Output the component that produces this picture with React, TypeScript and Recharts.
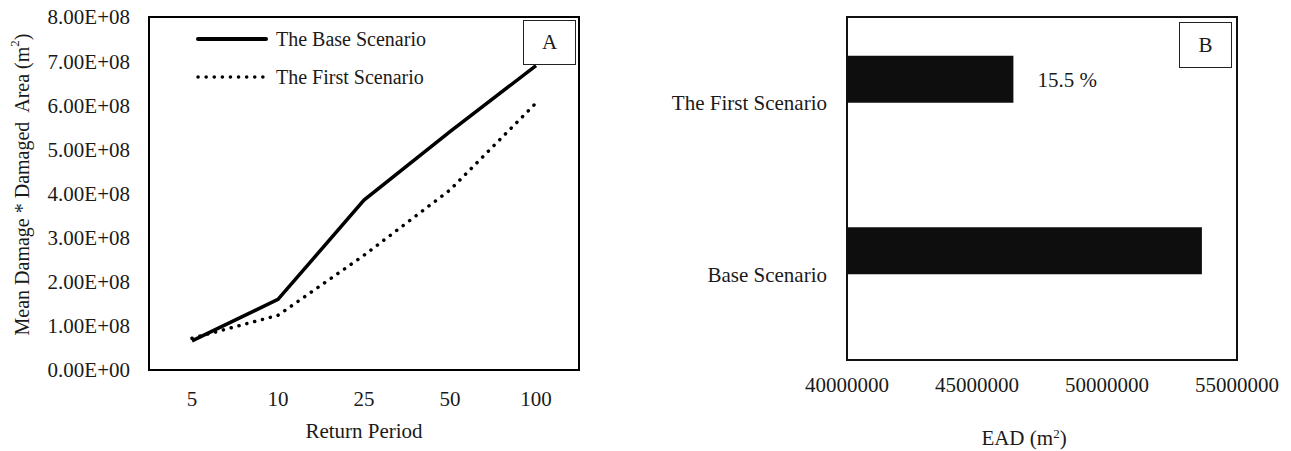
import React from 'react';
import {
  LineChart,
  Line,
  XAxis,
  YAxis,
  Legend,
  Label,
  ReferenceArea,
  BarChart,
  Bar,
  LabelList,
} from 'recharts';

// ---------- Data: panel A ----------
const returnPeriods = ['5', '10', '25', '50', '100'];
const baseScenario = [0.66e8, 1.6e8, 3.85e8, 5.4e8, 6.9e8];
const firstScenario = [0.72e8, 1.24e8, 2.6e8, 4.08e8, 6.05e8];
const yTicksA = [0, 1e8, 2e8, 3e8, 4e8, 5e8, 6e8, 7e8, 8e8];

// ---------- Data: panel B ----------
const scenarioNames = ['The First Scenario', 'Base Scenario'];
const eadValues = [46400000, 53650000];
const eadNotes = ['15.5 %', ''];
const xTicksB = [40000000, 45000000, 50000000, 55000000];

const lineData = returnPeriods.map((rp, i) => ({
  rp,
  base: baseScenario[i],
  first: firstScenario[i],
}));

const barData = scenarioNames.map((name, i) => ({
  name,
  ead: eadValues[i],
  note: eadNotes[i],
  pad: null as number | null,
}));

const FONT = '"Liberation Serif", "Times New Roman", serif';
const TXT = '#1a1a1a';
const FS = 21;

const fmtSci = (v: number) => {
  if (v === 0) return '0.00E+00';
  const exp = Math.floor(Math.log10(Math.abs(v)));
  const mant = v / Math.pow(10, exp);
  return `${mant.toFixed(2)}E+${String(exp).padStart(2, '0')}`;
};

const seriesStyle: Record<string, { dash?: string }> = {
  base: {},
  first: { dash: '0.1 8' },
};

const renderLegend = (props: any) => {
  const payload = props.payload || [];
  return (
    <div style={{ fontFamily: FONT, fontSize: FS - 1, color: TXT }}>
      {payload.map((entry: any) => {
        const st = seriesStyle[entry.dataKey] || {};
        return (
          <div
            key={entry.dataKey}
            style={{ display: 'flex', alignItems: 'center', height: 38 }}
          >
            <svg width={72} height={10} style={{ marginRight: 8 }}>
              <line
                x1={2}
                y1={5}
                x2={70}
                y2={5}
                stroke="#000"
                strokeWidth={st.dash ? 3.5 : 4}
                strokeDasharray={st.dash}
                strokeLinecap="round"
              />
            </svg>
            <span>{entry.value}</span>
          </div>
        );
      })}
    </div>
  );
};

const YTitleA = (props: any) => {
  const vb = props.viewBox || {};
  const cx = vb.x - 7;
  const cy = vb.y + vb.height / 2 - 9;
  return (
    <text
      x={cx}
      y={cy}
      transform={`rotate(-90 ${cx} ${cy})`}
      textAnchor="middle"
      dominantBaseline="central"
      fontFamily={FONT}
      fontSize={FS - 1}
      fill={TXT}
    >
      {'Mean Damage * Damaged\u00a0 Area (m'}
      <tspan baselineShift="super" fontSize={13}>
        2
      </tspan>
      <tspan>)</tspan>
    </text>
  );
};

const XTitleA = (props: any) => {
  const vb = props.viewBox || {};
  return (
    <text
      x={vb.x + vb.width / 2}
      y={vb.y + 68}
      textAnchor="middle"
      fontFamily={FONT}
      fontSize={FS}
      fill={TXT}
    >
      Return Period
    </text>
  );
};

const XTitleB = (props: any) => {
  const vb = props.viewBox || {};
  return (
    <text
      x={vb.x + vb.width / 2 - 18}
      y={vb.y + 85}
      textAnchor="middle"
      fontFamily={FONT}
      fontSize={FS}
      fill={TXT}
    >
      EAD (m
      <tspan baselineShift="super" fontSize={13}>
        2
      </tspan>
      <tspan>)</tspan>
    </text>
  );
};

const tickStyle = { fontFamily: FONT, fontSize: FS, fill: TXT };

const boxStyle: React.CSSProperties = {
  position: 'absolute',
  boxSizing: 'border-box',
  border: '1.5px solid #222',
  background: '#fff',
  fontFamily: FONT,
  fontSize: FS,
  color: TXT,
  display: 'flex',
  alignItems: 'center',
  justifyContent: 'center',
};

export default function App() {
  return (
    <div
      style={{
        position: 'absolute',
        left: 0,
        top: 0,
        width: 1291,
        height: 451,
        background: '#fff',
      }}
    >
      {/* Panel A */}
      <div style={{ position: 'absolute', left: 0, top: 0 }}>
        <LineChart
          width={600}
          height={451}
          data={lineData}
          margin={{ top: 17, right: 21, bottom: 0, left: 29 }}
        >
          <XAxis
            dataKey="rp"
            type="category"
            scale="band"
            height={81}
            axisLine={false}
            tickLine={false}
            tickSize={0}
            tickMargin={21}
            tick={tickStyle}
            interval={0}
          >
            <Label content={XTitleA} />
          </XAxis>
          <YAxis
            type="number"
            domain={[0, 8e8]}
            ticks={yTicksA}
            width={120}
            axisLine={false}
            tickLine={false}
            tickSize={0}
            tickMargin={19}
            tick={tickStyle}
            tickFormatter={fmtSci}
            interval={0}
          >
            <Label content={YTitleA} />
          </YAxis>
          <ReferenceArea
            y1={0}
            y2={8e8}
            fill="none"
            stroke="#000"
            strokeWidth={2}
            ifOverflow="visible"
          />
          <Line
            dataKey="base"
            name="The Base Scenario"
            type="linear"
            stroke="#000"
            strokeWidth={3.5}
            dot={false}
            activeDot={false}
            isAnimationActive={false}
          />
          <Line
            dataKey="first"
            name="The First Scenario"
            type="linear"
            stroke="#000"
            strokeWidth={3.5}
            strokeDasharray="0.1 8"
            strokeLinecap="round"
            dot={false}
            activeDot={false}
            isAnimationActive={false}
          />
          <Legend
            layout="vertical"
            align="center"
            verticalAlign="middle"
            content={renderLegend}
            wrapperStyle={{ left: 196, top: 20, width: 300, height: 76 }}
          />
        </LineChart>
      </div>

      {/* Panel B */}
      <div style={{ position: 'absolute', left: 600, top: 0 }}>
        <BarChart
          width={691}
          height={451}
          data={barData}
          layout="vertical"
          margin={{ top: 17, right: 54, bottom: 0, left: 47 }}
          barGap={0}
          barCategoryGap="22.6%"
        >
          <XAxis
            type="number"
            domain={[40000000, 55000000]}
            ticks={xTicksB}
            height={91}
            axisLine={false}
            tickLine={false}
            tickSize={0}
            tickMargin={17}
            tick={tickStyle}
            interval={0}
            allowDataOverflow
          >
            <Label content={XTitleB} />
          </XAxis>
          <YAxis
            type="category"
            dataKey="name"
            width={200}
            axisLine={false}
            tickLine={false}
            tickSize={0}
            tickMargin={20}
            tick={tickStyle}
            interval={0}
          />
          <ReferenceArea
            x1={40000000}
            x2={55000000}
            fill="none"
            stroke="#111"
            strokeWidth={2}
            ifOverflow="visible"
          />
          <Bar dataKey="ead" fill="#0e0e0e" isAnimationActive={false}>
            <LabelList
              dataKey="note"
              position="right"
              offset={24}
              style={{ fontFamily: FONT, fontSize: FS, fill: TXT }}
            />
          </Bar>
          <Bar dataKey="pad" fill="#0e0e0e" isAnimationActive={false} />
        </BarChart>
      </div>

      <div style={{ ...boxStyle, left: 523, top: 20, width: 53, height: 45 }}>A</div>
      <div style={{ ...boxStyle, left: 1179, top: 22, width: 53, height: 46 }}>B</div>
    </div>
  );
}
